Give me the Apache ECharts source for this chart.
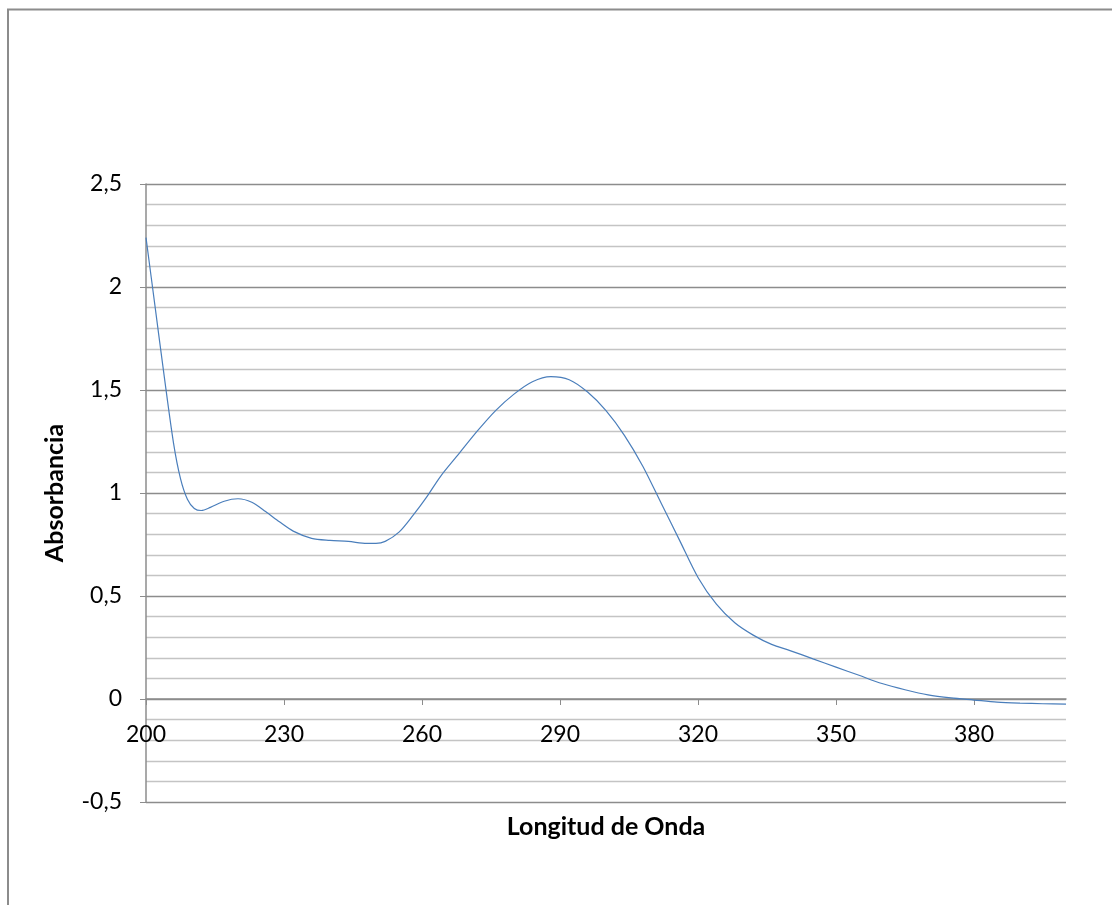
<!DOCTYPE html>
<html>
<head>
<meta charset="utf-8">
<script src="https://cdn.jsdelivr.net/npm/echarts@6/dist/echarts.min.js"></script>
<style>
  html, body { margin: 0; padding: 0; background: #fff; }
  #chart { width: 1112px; height: 905px; }
</style>
</head>
<body>
<div id="chart"></div>
<script>
// longitud de onda (nm) y absorbancia
var wavelengths = [200, 202, 204, 206, 207.5, 209, 210.5, 212, 214, 217, 220, 223, 226, 229, 232, 236, 240, 244, 248, 250, 252, 255, 258, 261, 264, 268, 272, 276, 280, 284, 288, 292, 296, 300, 304, 308, 312, 316, 320, 324, 328, 332, 336, 340, 345, 350, 355, 360, 365, 370, 375, 380, 385, 390, 395, 400];
var absorbance = [2.24, 1.90, 1.56, 1.24, 1.07, 0.97, 0.925, 0.915, 0.93, 0.96, 0.972, 0.955, 0.91, 0.86, 0.815, 0.78, 0.77, 0.765, 0.755, 0.755, 0.765, 0.81, 0.89, 0.98, 1.08, 1.19, 1.3, 1.40, 1.48, 1.54, 1.565, 1.55, 1.49, 1.40, 1.28, 1.13, 0.95, 0.77, 0.59, 0.46, 0.37, 0.31, 0.265, 0.235, 0.195, 0.155, 0.115, 0.075, 0.045, 0.02, 0.005, -0.005, -0.015, -0.02, -0.023, -0.025];
var yTicks = [-0.5, 0, 0.5, 1, 1.5, 2, 2.5];
var xTicks = [200, 230, 260, 290, 320, 350, 380];

var seriesData = wavelengths.map(function (w, i) { return [w, absorbance[i]]; });

var chart = echarts.init(document.getElementById('chart'), null, { renderer: 'canvas' });
var font = 'Lato, Open Sans, sans-serif';

var option = {
  animation: false,
  backgroundColor: '#fff',
  graphic: [{
    type: 'rect',
    shape: { x: 8, y: 9.5, width: 1200, height: 1000 },
    style: { fill: 'none', stroke: '#8c8c8c', lineWidth: 2 }
  }],
  grid: { left: 146, top: 184, width: 920, height: 618, outerBoundsMode: 'none' },
  xAxis: {
    type: 'value',
    min: 200,
    max: 400,
    interval: 30,
    name: 'Longitud de Onda',
    nameLocation: 'middle',
    nameGap: 12,
    nameTextStyle: { fontFamily: font, fontSize: 25, fontWeight: 'bold', color: '#000' },
    axisLine: { onZero: true, lineStyle: { color: '#8c8c8c', width: 1.5 } },
    axisTick: { show: true, inside: false, length: 6, lineStyle: { color: '#8c8c8c' } },
    axisLabel: {
      fontFamily: font, fontSize: 23, color: '#000', margin: -79,
      showMaxLabel: false,
      formatter: function (v) { return xTicks.indexOf(v) >= 0 ? String(v) : ''; }
    },
    splitLine: { show: false }
  },
  yAxis: {
    type: 'value',
    min: -0.5,
    max: 2.5,
    interval: 0.5,
    minorTick: { show: false, splitNumber: 5 },
    name: 'Absorbancia',
    nameLocation: 'middle',
    nameGap: 79,
    nameTextStyle: { fontFamily: font, fontSize: 25, fontWeight: 'bold', color: '#000' },
    axisLine: { show: true, lineStyle: { color: '#8c8c8c', width: 1.5 } },
    axisTick: { show: true, length: 6, lineStyle: { color: '#8c8c8c' } },
    axisLabel: {
      fontFamily: font, fontSize: 23, color: '#000', margin: 24,
      formatter: function (v) {
        var t = yTicks.find(function (k) { return Math.abs(k - v) < 1e-9; });
        return t === undefined ? '' : String(t).replace('.', ',');
      }
    },
    splitLine: { show: true, lineStyle: { color: '#8c8c8c', width: 1.3 } },
    minorSplitLine: { show: true, lineStyle: { color: '#c4c4c4', width: 1.3 } }
  },
  series: [{
    type: 'line',
    data: seriesData,
    smooth: 0.3,
    showSymbol: false,
    lineStyle: { color: '#4a7ebb', width: 1.2 }
  }]
};
chart.setOption(option);
</script>
</body>
</html>
